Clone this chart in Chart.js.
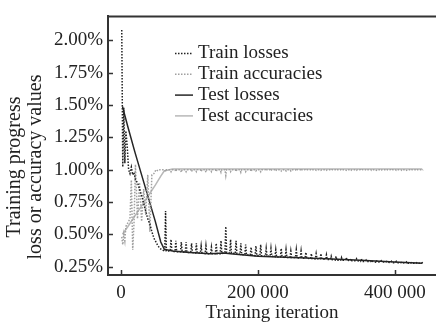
<!DOCTYPE html>
<html>
<head>
<meta charset="utf-8">
<script src="https://cdn.jsdelivr.net/npm/chart.js@4/dist/chart.umd.min.js"></script>
<style>
	body { margin: 0; background: #fff; }
	#wrap { width: 436px; height: 322px; }
</style>
</head>
<body>
<div id="wrap"><canvas id="myChart" width="436" height="322"></canvas></div>
<script>
// Iteraciones de entrenamiento (comparten eje las dos series de train)
const trainIter = [
	1000, 2500, 4000, 5500, 7000, 9000, 11000, 13000, 15000, 17000, 19000, 21000, 24000,
	27000, 30000, 33000, 36000, 39000, 42000, 45000, 48000, 51000, 54000, 57000, 60000,
	63800, 65000, 66200, 71800, 73000, 74200, 78800, 80000, 81200, 86800, 88000, 89200,
	93800, 95000, 96200, 101800, 103000, 104200, 108800, 110000, 111200, 115800, 117000, 118200,
	122800, 124000, 125200, 130800, 132000, 133200, 137800, 139000, 140200, 144800, 146000, 147200,
	151800, 153000, 154200, 158800, 160000, 161200, 166800, 168000, 169200, 173800, 175000, 176200,
	180800, 182000, 183200, 188800, 190000, 191200, 195800, 197000, 198200, 202800, 204000, 205200,
	210800, 212000, 213200, 217800, 219000, 220200, 224800, 226000, 227200, 232800, 234000, 235200,
	239800, 241000, 242200, 246800, 248000, 249200, 254800, 256000, 257200, 261800, 263000, 264200,
	268800, 270000, 271200, 276800, 278000, 279200, 283800, 285000, 286200, 290800, 292000, 293200,
	298800, 300000, 301200, 305800, 307000, 308200, 312800, 314000, 315200, 320800, 322000, 323200,
	327800, 329000, 330200, 334800, 336000, 337200, 342800, 344000, 345200, 349800, 351000, 352200,
	356800, 358000, 359200, 364800, 366000, 367200, 371800, 373000, 374200, 378800, 380000, 381200,
	386800, 388000, 389200, 393800, 395000, 396200, 400800, 402000, 403200, 408800, 410000, 411200,
	415800, 417000, 418200, 422800, 424000, 425200, 430800, 432000, 433200, 438800, 440000, 441200,
];
const trainLosses = [
	2.08, 1.02, 1.48, 1.05, 1.30, 1.18, 1.00, 0.97, 1.02, 0.96, 0.98, 0.92, 0.90,
	0.85, 0.80, 0.74, 0.68, 0.62, 0.58, 0.52, 0.47, 0.44, 0.41, 0.39, 0.38,
	0.37, 0.68, 0.37, 0.37, 0.46, 0.37, 0.365, 0.45, 0.365, 0.365, 0.44, 0.365,
	0.36, 0.44, 0.36, 0.36, 0.43, 0.36, 0.355, 0.43, 0.355, 0.355, 0.41, 0.355,
	0.35, 0.41, 0.35, 0.35, 0.40, 0.35, 0.35, 0.43, 0.35, 0.35, 0.45, 0.35,
	0.36, 0.56, 0.36, 0.355, 0.46, 0.355, 0.35, 0.45, 0.35, 0.345, 0.43, 0.345,
	0.34, 0.42, 0.34, 0.34, 0.40, 0.34, 0.335, 0.41, 0.335, 0.335, 0.42, 0.335,
	0.33, 0.39, 0.33, 0.33, 0.39, 0.33, 0.325, 0.38, 0.325, 0.325, 0.39, 0.325,
	0.32, 0.38, 0.32, 0.32, 0.37, 0.32, 0.32, 0.38, 0.32, 0.315, 0.37, 0.315,
	0.315, 0.36, 0.315, 0.31, 0.35, 0.31, 0.31, 0.35, 0.31, 0.31, 0.35, 0.31,
	0.305, 0.34, 0.305, 0.305, 0.33, 0.305, 0.30, 0.33, 0.30, 0.30, 0.32, 0.30,
	0.30, 0.32, 0.30, 0.295, 0.31, 0.295, 0.295, 0.31, 0.295, 0.29, 0.31, 0.29,
	0.29, 0.30, 0.29, 0.29, 0.30, 0.29, 0.285, 0.30, 0.285, 0.285, 0.295, 0.285,
	0.285, 0.29, 0.285, 0.28, 0.29, 0.28, 0.28, 0.29, 0.28, 0.28, 0.285, 0.28,
	0.275, 0.285, 0.275, 0.275, 0.28, 0.275, 0.275, 0.28, 0.275, 0.275, 0.28, 0.275,
];
const trainAccuracies = [
	0.48, 0.42, 0.50, 0.45, 0.56, 0.58, 0.60, 0.62, 0.92, 0.38, 0.60, 1.04, 0.62,
	0.90, 0.60, 0.85, 0.65, 0.96, 0.52, 0.96, 0.97, 1.00, 0.99, 1.00, 1.00,
	1.00, 0.985, 1.00, 1.00, 0.985, 1.00, 1.00, 0.985, 1.00, 1.00, 0.98, 1.00,
	1.00, 0.985, 1.00, 1.00, 0.985, 1.00, 1.00, 0.985, 1.00, 1.00, 0.985, 1.00,
	1.00, 0.98, 1.00, 1.00, 0.985, 1.00, 1.00, 0.985, 1.00, 1.00, 0.98, 1.00,
	1.00, 0.955, 1.00, 1.00, 0.985, 1.00, 1.00, 0.985, 1.00, 1.00, 0.98, 1.00,
	1.00, 0.985, 1.00, 1.00, 0.985, 1.00, 1.00, 0.99, 1.00, 1.00, 0.985, 1.00,
	1.00, 0.99, 1.00, 1.00, 0.99, 1.00, 1.00, 0.99, 1.00, 1.00, 0.99, 1.00,
	1.00, 0.99, 1.00, 1.00, 0.99, 1.00, 1.00, 0.99, 1.00, 1.00, 0.99, 1.00,
	1.00, 0.995, 1.00, 1.00, 0.995, 1.00, 1.00, 0.995, 1.00, 1.00, 0.995, 1.00,
	1.00, 0.995, 1.00, 1.00, 0.995, 1.00, 1.00, 0.995, 1.00, 1.00, 0.995, 1.00,
	1.00, 0.995, 1.00, 1.00, 0.995, 1.00, 1.00, 0.995, 1.00, 1.00, 0.995, 1.00,
	1.00, 0.995, 1.00, 1.00, 0.995, 1.00, 1.00, 0.995, 1.00, 1.00, 0.995, 1.00,
	1.00, 0.995, 1.00, 1.00, 0.995, 1.00, 1.00, 0.995, 1.00, 1.00, 0.995, 1.00,
	1.00, 0.995, 1.00, 1.00, 0.995, 1.00, 1.00, 0.995, 1.00, 1.00, 0.995, 1.00,
];

// Evaluaciones de test
const testIter = [2000, 10000, 20000, 30000, 40000, 50000, 58000, 63000, 75000, 100000, 130000, 150000, 160000, 200000, 250000, 300000, 350000, 400000, 440000];
const testLosses = [1.49, 1.33, 1.14, 0.96, 0.78, 0.60, 0.44, 0.385, 0.37, 0.36, 0.35, 0.355, 0.35, 0.33, 0.32, 0.31, 0.30, 0.285, 0.275];
const testAccuracies = [0.50, 0.56, 0.64, 0.72, 0.80, 0.88, 0.95, 0.99, 1.005, 1.005, 1.005, 1.005, 1.005, 1.005, 1.005, 1.005, 1.005, 1.005, 1.005];

const xTicks = [0, 200000, 400000];
const yTicks = [0.25, 0.5, 0.75, 1.0, 1.25, 1.5, 1.75, 2.0];
const yTitle = ['Training progress', 'loss or accuracy values'];

const SERIF = '"Liberation Serif", "Times New Roman", serif';

const toPoints = (xs, ys) => xs.map((x, i) => ({ x: x, y: ys[i] }));

// Leyenda dibujada dentro del área del gráfico
const innerLegend = {
	id: 'innerLegend',
	afterDatasetsDraw(chart) {
		const ctx = chart.ctx;
		ctx.save();
		ctx.font = '19px ' + SERIF;
		ctx.textBaseline = 'middle';
		chart.data.datasets.forEach((ds, i) => {
			const y = 53.5 + i * 20.8;
			ctx.strokeStyle = ds.borderColor;
			ctx.lineWidth = ds.borderWidth;
			ctx.setLineDash(ds.borderDash || []);
			ctx.beginPath();
			ctx.moveTo(175, y);
			ctx.lineTo(193, y);
			ctx.stroke();
			ctx.setLineDash([]);
			ctx.fillStyle = '#222';
			ctx.fillText(ds.label, 198, y);
		});
		ctx.restore();
	},
};

// Marcas hacia dentro, borde superior y título del eje Y
const frameExtras = {
	id: 'frameExtras',
	afterDraw(chart) {
		const ctx = chart.ctx;
		const a = chart.chartArea;
		const xs = chart.scales.x;
		const ys = chart.scales.y;
		ctx.save();
		ctx.strokeStyle = '#333';
		ctx.lineWidth = 2;
		ctx.beginPath();
		ctx.moveTo(a.left, a.top);
		ctx.lineTo(a.right, a.top);
		ctx.stroke();
		ctx.lineWidth = 1.5;
		ctx.beginPath();
		yTicks.forEach((v) => {
			const p = Math.round(ys.getPixelForValue(v)) + 0.5;
			ctx.moveTo(a.left, p);
			ctx.lineTo(a.left + 5, p);
		});
		xTicks.forEach((v) => {
			const p = Math.round(xs.getPixelForValue(v)) + 0.5;
			ctx.moveTo(p, a.bottom);
			ctx.lineTo(p, a.bottom - 5);
		});
		ctx.stroke();

		ctx.fillStyle = '#222';
		ctx.font = '20px ' + SERIF;
		ctx.textAlign = 'center';
		ctx.textBaseline = 'middle';
		ctx.translate(0, 167);
		ctx.rotate(-Math.PI / 2);
		ctx.fillText(yTitle[0], 0, 15);
		ctx.fillText(yTitle[1], 0, 36);
		ctx.restore();
	},
};

const ctx = document.getElementById('myChart').getContext('2d');
const myChart = new Chart(ctx, {
	type: 'line',
	data: {
		datasets: [
			{
				label: 'Train losses',
				data: toPoints(trainIter, trainLosses),
				borderColor: '#222',
				borderWidth: 1.5,
				borderDash: [1.5, 1.5],
			},
			{
				label: 'Train accuracies',
				data: toPoints(trainIter, trainAccuracies),
				borderColor: '#a0a0a0',
				borderWidth: 1.5,
				borderDash: [1.5, 1.5],
			},
			{
				label: 'Test losses',
				data: toPoints(testIter, testLosses),
				borderColor: '#262626',
				borderWidth: 1.5,
			},
			{
				label: 'Test accuracies',
				data: toPoints(testIter, testAccuracies),
				borderColor: '#b8b8b8',
				borderWidth: 1.5,
			},
		],
	},
	options: {
		responsive: false,
		animation: false,
		events: [],
		elements: { point: { radius: 0 }, line: { tension: 0 } },
		layout: { padding: { top: 11, right: 0, left: 0, bottom: 0 } },
		plugins: {
			legend: { display: false },
			tooltip: { enabled: false },
		},
		scales: {
			x: {
				type: 'linear',
				min: -19100,
				max: 460100,
				afterFit: (s) => { s.height = 47; },
				afterBuildTicks: (s) => { s.ticks = xTicks.map((v) => ({ value: v })); },
				grid: { display: false, drawTicks: false },
				border: { display: true, color: '#333', width: 2 },
				ticks: {
					padding: 7,
					color: '#222',
					font: { family: SERIF, size: 19 },
					maxRotation: 0,
					callback: (v) => (v === 0 ? '0' : String(v / 1000) + ' 000'),
				},
				title: {
					display: true,
					text: 'Training iteration',
					color: '#222',
					font: { family: SERIF, size: 19 },
					padding: { top: 0, bottom: -2 },
				},
			},
			y: {
				min: 0.185,
				max: 2.186,
				afterFit: (s) => { s.width = 108; },
				afterBuildTicks: (s) => { s.ticks = yTicks.map((v) => ({ value: v })); },
				grid: { display: false, drawTicks: false },
				border: { display: true, color: '#333', width: 2 },
				ticks: {
					padding: 5,
					color: '#222',
					font: { family: SERIF, size: 19 },
					callback: (v) => v.toFixed(2) + '%',
				},
			},
		},
	},
	plugins: [innerLegend, frameExtras],
});
</script>
</body>
</html>
